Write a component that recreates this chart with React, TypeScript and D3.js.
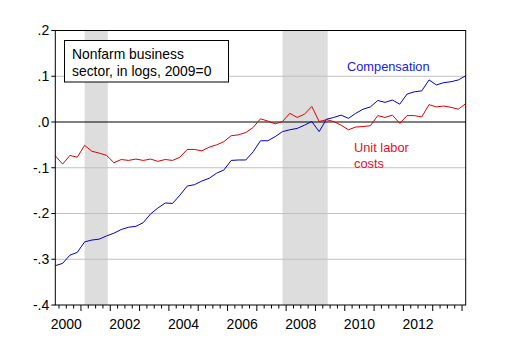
import React from "react";
import * as d3 from "d3";

const startYear = 2000;
const compensation = [
  -0.314, -0.309, -0.291, -0.285, -0.262, -0.258, -0.256, -0.249,
  -0.243, -0.235, -0.230, -0.228, -0.220, -0.201, -0.188, -0.177,
  -0.178, -0.160, -0.140, -0.137, -0.129, -0.123, -0.112, -0.105,
  -0.084, -0.083, -0.083, -0.065, -0.041, -0.041, -0.032, -0.021,
  -0.017, -0.014, -0.007, 0.001, -0.021, 0.006, 0.010, 0.015,
  0.008, 0.019, 0.028, 0.033, 0.047, 0.043, 0.048, 0.039,
  0.061, 0.066, 0.068, 0.092, 0.081, 0.086, 0.088, 0.092, 0.101,
];
const unitLaborCosts = [
  -0.074, -0.092, -0.073, -0.077, -0.051, -0.064, -0.068, -0.073,
  -0.089, -0.082, -0.084, -0.081, -0.084, -0.081, -0.086, -0.082,
  -0.084, -0.077, -0.060, -0.060, -0.063, -0.055, -0.050, -0.043,
  -0.030, -0.028, -0.023, -0.012, 0.007, 0.002, -0.004, 0.001,
  0.019, 0.010, 0.017, 0.034, 0.001, 0.005, 0.001, -0.007,
  -0.017, -0.011, -0.010, -0.008, 0.014, 0.010, 0.015, -0.003,
  0.014, 0.014, 0.011, 0.038, 0.033, 0.035, 0.032, 0.028, 0.040,
];
// recessions as [start index, end index] (quarters from 2000Q1)
const recessions: [number, number][] = [
  [4, 7],
  [31, 37],
];
const yTicks = [0.2, 0.1, 0.0, -0.1, -0.2, -0.3, -0.4];
const yTickLabels = [".2", ".1", ".0", "-.1", "-.2", "-.3", "-.4"];
const yearLabels = ["2000", "2002", "2004", "2006", "2008", "2010", "2012"];

const W = 508;
const H = 355;
const L = 55.3;
const R = 465.7;
const T = 30.5;
const B = 305;
const FONT = "Arial, 'Liberation Sans', sans-serif";

export default function App() {
  const n = compensation.length;
  const x = d3.scaleLinear().domain([0, n - 1]).range([L, R]);
  const y = d3.scaleLinear().domain([-0.4, 0.2]).range([B, T]);
  const line = d3
    .line<number>()
    .x((_, i) => x(i))
    .y((d) => y(d));
  const step = x(1) - x(0);

  const qTicks: { xv: number; major: boolean }[] = [];
  for (let i = 0; i <= n; i++) {
    const xv = x(i) - step / 2;
    if (xv < L - 0.1 || xv > R + 0.1) continue;
    qTicks.push({ xv, major: i % 4 === 0 });
  }

  return (
    <div style={{ position: "fixed", left: 0, top: 0 }}>
      <svg width={W} height={H} style={{ display: "block", background: "#fff" }}>
        {recessions.map(([a, b], k) => (
          <rect key={k} x={x(a)} y={T} width={x(b) - x(a) + 1.2} height={B - T} fill="#DDDDDD" />
        ))}
        {yTicks.map((t, k) =>
          t !== 0 && t !== 0.2 && t !== -0.4 ? (
            <line key={k} x1={L} x2={R} y1={y(t)} y2={y(t)} stroke="#C0C0C0" strokeWidth={1} />
          ) : null
        )}
        <line x1={L} x2={R} y1={y(0)} y2={y(0)} stroke="#000" strokeWidth={1} />
        <path d={line(unitLaborCosts) || ""} fill="none" stroke="#DD0000" strokeWidth={1} />
        <path d={line(compensation) || ""} fill="none" stroke="#0000CC" strokeWidth={1} />
        <rect x={L} y={T} width={R - L} height={B - T} fill="none" stroke="#000" strokeWidth={1} />
        {yTicks.map((t, k) => (
          <g key={k}>
            <line x1={L - 4} x2={L} y1={y(t)} y2={y(t)} stroke="#000" />
            <text
              x={L - 6}
              y={y(t)}
              dy="0.35em"
              textAnchor="end"
              fontFamily={FONT}
              fontSize={14}
              fill="#000"
            >
              {yTickLabels[k]}
            </text>
          </g>
        ))}
        {qTicks.map((q, k) => (
          <line key={k} x1={q.xv} x2={q.xv} y1={B} y2={B + (q.major ? 6 : 3.5)} stroke="#000" />
        ))}
        {yearLabels.map((lab, k) => {
          const idx = (Number(lab) - startYear) * 4 + 1.5;
          return (
            <text
              key={k}
              x={x(idx)}
              y={B + 24}
              textAnchor="middle"
              fontFamily={FONT}
              fontSize={14}
              fill="#000"
            >
              {lab}
            </text>
          );
        })}
        <rect x={64.5} y={40.5} width={164} height={41.5} fill="#fff" stroke="#000" strokeWidth={1} />
        <text x={72} y={58.5} fontFamily={FONT} fontSize={13.9} fill="#000">
          Nonfarm business
        </text>
        <text x={72} y={75.5} fontFamily={FONT} fontSize={13.9} fill="#000">
          sector, in logs, 2009=0
        </text>
        <text x={347} y={71} fontFamily={FONT} fontSize={12.8} fill="#2020E0">
          Compensation
        </text>
        <text x={354} y={152} fontFamily={FONT} fontSize={12.8} fill="#E0102A">
          Unit labor
        </text>
        <text x={354} y={168} fontFamily={FONT} fontSize={12.8} fill="#E0102A">
          costs
        </text>
      </svg>
    </div>
  );
}
